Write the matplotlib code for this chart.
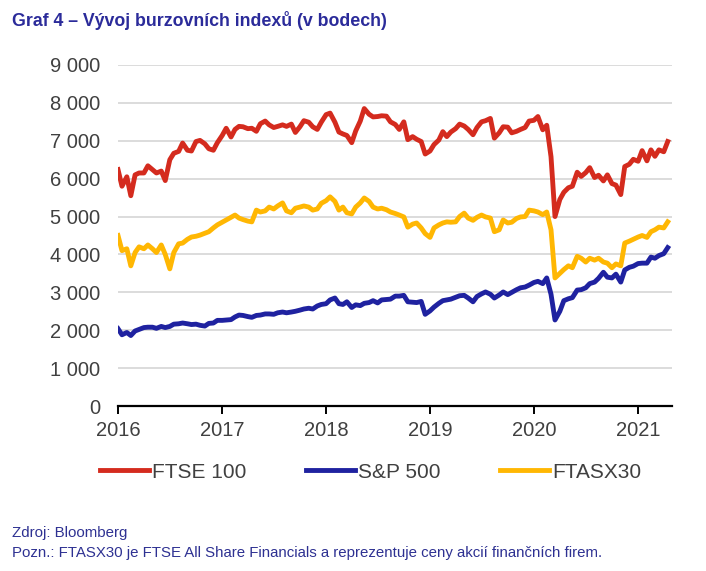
import numpy as np
import pandas as pd
import matplotlib
matplotlib.use("Agg")
import matplotlib.pyplot as plt
import matplotlib.dates as mdates

# semi-monthly readings, Jan 2016 - Apr 2021
dates = pd.date_range("2016-01-01", "2021-04-15", freq="SMS")

ftse100 = [
    6240, 5800, 6050, 5550, 6100, 6150, 6150, 6340, 6240, 6150, 6200, 5950,
    6500, 6670, 6720, 6940, 6750, 6730, 6980, 7010, 6920, 6790, 6750, 6950,
    7140, 7330, 7100, 7300, 7380, 7370, 7320, 7330, 7250, 7450, 7520, 7420,
    7350, 7380, 7420, 7380, 7440, 7220, 7370, 7530, 7490, 7370, 7300, 7490,
    7690, 7730, 7490, 7230, 7180, 7140, 6950, 7260, 7520, 7850, 7700, 7630,
    7640, 7660, 7650, 7500, 7430, 7300, 7500, 7030, 7110, 7040, 6980, 6650,
    6730, 6900, 7020, 7240, 7110, 7230, 7320, 7440, 7390, 7300, 7160, 7350,
    7500, 7530, 7590, 7070, 7210, 7370, 7360, 7210, 7250, 7300, 7350, 7520,
    7540, 7640, 7290, 7410, 6580, 5000, 5450, 5640, 5760, 5800, 6170, 6060,
    6160, 6290, 6030, 6090, 5940, 6100, 5870, 5830, 5580, 6320, 6380, 6510,
    6460, 6740, 6470, 6760, 6590, 6760, 6710, 6980,
]

sp500 = [
    2040, 1880, 1940, 1860, 1980, 2020, 2070, 2080, 2080, 2050, 2100, 2070,
    2100, 2160, 2170, 2190, 2170, 2150, 2160, 2130, 2110, 2180, 2190, 2260,
    2260, 2270, 2280, 2350, 2400, 2390, 2360, 2340, 2390, 2400, 2430, 2430,
    2420, 2460, 2480, 2460, 2480, 2500, 2530, 2560, 2580, 2560, 2640, 2680,
    2700, 2800, 2850, 2700, 2680, 2750, 2600, 2670, 2650, 2710, 2730, 2780,
    2720, 2800, 2810, 2820, 2900, 2900, 2920, 2750, 2740, 2730, 2760, 2420,
    2510, 2610, 2710, 2780, 2800, 2820, 2870, 2910, 2920, 2850, 2750, 2890,
    2960, 3010, 2950, 2850, 2930, 3010, 2940, 3000, 3070, 3120, 3140, 3190,
    3260, 3290, 3230, 3380, 2950, 2270, 2500, 2780, 2830, 2860, 3060, 3070,
    3120, 3230, 3270, 3370, 3530, 3400, 3380, 3480, 3270, 3590, 3660, 3690,
    3760, 3770, 3770, 3930, 3900, 3970, 4020, 4180,
]

ftasx30 = [
    4500, 4100, 4150, 3700, 4050, 4200, 4150, 4250, 4150, 4050, 4250, 4000,
    3620, 4050, 4280, 4300, 4400, 4460, 4480, 4510, 4560, 4600, 4700, 4780,
    4850, 4910, 4980, 5040, 4960, 4920, 4880, 4860, 5170, 5120, 5150, 5250,
    5200, 5280, 5360, 5150, 5100, 5220, 5250, 5280, 5250, 5170, 5200, 5350,
    5420, 5520, 5400, 5170, 5250, 5100, 5070, 5250, 5360, 5490, 5400, 5250,
    5200, 5220, 5180, 5120, 5080, 5040, 4990, 4720, 4800, 4830, 4700, 4550,
    4450, 4700, 4780, 4830, 4860, 4850, 4860, 5000, 5090, 4960, 4900, 4980,
    5040, 4990, 4960, 4600, 4650, 4910, 4830, 4850, 4950, 4990, 5000, 5170,
    5150, 5120, 5050, 5120, 4650, 3380, 3500, 3600, 3700, 3650, 3950, 3900,
    3800, 3900, 3850, 3900, 3800, 3770, 3650, 3750, 3700, 4300, 4350, 4400,
    4460, 4500, 4450, 4600, 4650, 4720, 4700, 4860,
]

series_names = ["FTSE 100", "S&P 500", "FTASX30"]
colors = ["#d42b1e", "#1f22a0", "#ffb703"]

plt.rcParams["font.family"] = ["Liberation Sans", "DejaVu Sans"]

fig = plt.figure(figsize=(7.06, 5.71), dpi=100)
ax = fig.add_axes([118/706, 1-406/571, 554/706, 341/571])

for vals, name, c in zip([ftse100, sp500, ftasx30], series_names, colors):
    ax.plot(dates, vals, color=c, lw=3.5, label=name, solid_joinstyle="round")

ax.set_ylim(0, 9000)
ax.set_xlim(pd.Timestamp("2016-01-01"), pd.Timestamp("2021-04-30"))
ax.set_yticks(range(0, 9001, 1000))
ax.set_yticklabels([f"{v:,}".replace(",", " ") for v in range(0, 9001, 1000)])
ax.xaxis.set_major_locator(mdates.YearLocator())
ax.xaxis.set_major_formatter(mdates.DateFormatter("%Y"))

ax.grid(axis="y", color="#d9d9d9", lw=1.3)
ax.set_axisbelow(True)
for s in ["top", "right", "left"]:
    ax.spines[s].set_visible(False)
ax.spines["bottom"].set_linewidth(1.6)
ax.tick_params(axis="y", length=0, pad=13, labelsize=14.5, labelcolor="#404040")
ax.tick_params(axis="x", length=6, width=1.4, pad=5, labelsize=14.5, labelcolor="#404040")

fig.text(12/706, 1-20/571, "Graf 4 – Vývoj burzovních indexů (v bodech)",
         fontsize=12.8, fontweight="bold", color="#2b2b9a", va="center")

fig.legend(loc="center left", bbox_to_anchor=(100/706, 1-472/571), ncol=3,
           frameon=False, fontsize=15, handlelength=2.35, handletextpad=0.15,
           columnspacing=2.85, borderpad=0, borderaxespad=0, labelcolor="#404040")

fig.text(12/706, 1-533/571, "Zdroj: Bloomberg", fontsize=10.8, color="#2e3192", va="center")
fig.text(12/706, 1-553/571,
         "Pozn.: FTASX30 je FTSE All Share Financials a reprezentuje ceny akcií finančních firem.",
         fontsize=10.8, color="#2e3192", va="center")

fig.savefig("out.png", dpi=100)
